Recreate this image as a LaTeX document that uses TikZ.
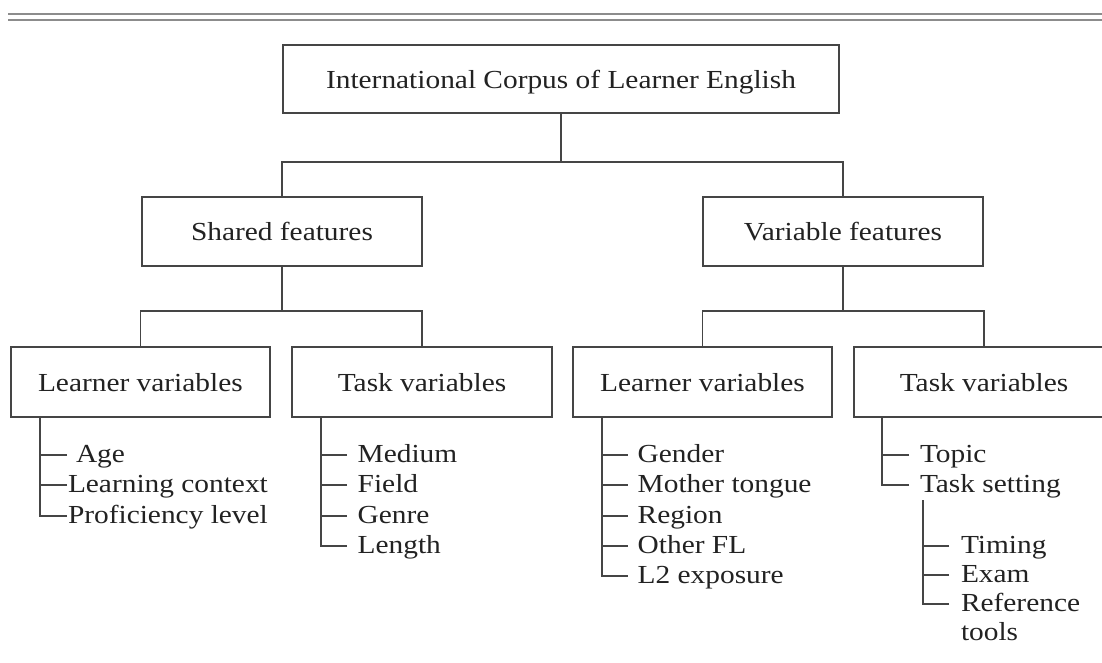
\documentclass[tikz,border=0pt]{standalone}
\usepackage{fontspec}
\setmainfont{Liberation Serif}[FakeStretch=1.13]
\definecolor{linec}{HTML}{454545}
\definecolor{textc}{HTML}{222222}
\definecolor{rulec}{HTML}{8C8C8C}
\newcommand\boxfont{\fontsize{26}{29}\selectfont}
\newcommand\tickto[3]{\draw[conn] ([xshift=-#2,yshift=7pt]#1.base west) -| (#3);}
\begin{document}
\begin{tikzpicture}[x=1pt,y=-1pt,
  box/.style={draw=linec, line width=1.7pt, rectangle, inner sep=0pt,
    minimum height=70pt, minimum width=260pt, font=\boxfont, text=textc,
    text height=24pt, text depth=6pt},
  item/.style={anchor=base west, inner sep=0pt, outer sep=0pt, font=\boxfont, text=textc},
  conn/.style={draw=linec, line width=1.7pt},
  rulel/.style={draw=rulec, line width=2.2pt}]
\useasboundingbox (0,0) rectangle (1102,662);
\fill[white] (0,0) rectangle (1102,662);
% top double rule
\coordinate (r1a) at (8,14); \coordinate (r1b) at (1102,14);
\coordinate (r2a) at (8,19.8); \coordinate (r2b) at (1102,19.8);
\draw[rulel] (r1a) -- (r1b);
\draw[rulel] (r2a) -- (r2b);
% boxes
\node[box, minimum width=556pt, minimum height=68pt] (root) at (561,79) {International Corpus of Learner English};
\node[box, minimum width=280pt, minimum height=69pt] (shared) at (282,231.5) {Shared features};
\node[box, minimum width=280pt, minimum height=69pt] (var) at (843,231.5) {Variable features};
\node[box, minimum width=259pt] (ll) at (140.4,382) {Learner variables};
\node[box] (tl) at (422,382) {Task variables};
\node[box, minimum width=259pt] (lr) at (702.5,382) {Learner variables};
\node[box] (tr) at (984,382) {Task variables};
% tree connectors
\coordinate (h1) at (0,162);
\coordinate (h2) at (0,311);
\draw[conn] (root.south) -- (root.south |- h1);
\draw[conn] (shared.north) |- (var.north |- h1) -- (var.north);
\draw[conn] (shared.south) -- (shared.south |- h2);
\draw[conn] (ll.north) |- (tl.north |- h2) -- (tl.north);
\draw[conn] (var.south) -- (var.south |- h2);
\draw[conn] (lr.north) |- (tr.north |- h2) -- (tr.north);
% spine tops
\coordinate (s1) at ([xshift=30pt]ll.south west);
\coordinate (s2) at ([xshift=30pt]tl.south west);
\coordinate (s3) at ([xshift=30pt]lr.south west);
\coordinate (s4) at ([xshift=29pt]tr.south west);
% shared learner variables
\node[item] (a1) at (76,462) {Age};
\node[item] (a2) at (68,492) {Learning context};
\node[item] (a3) at (68,523) {Proficiency level};
\tickto{a1}{9pt}{s1}
\tickto{a2}{1pt}{s1}
\tickto{a3}{1pt}{s1}
% shared task variables
\node[item] (b1) at (357.7,462) {Medium};
\node[item] (b2) at (357.7,492) {Field};
\node[item] (b3) at (357.7,523) {Genre};
\node[item] (b4) at (357.7,553) {Length};
\foreach \n in {b1,b2,b3,b4} {\tickto{\n}{10.5pt}{s2}}
% variable learner variables
\node[item] (c1) at (637.7,462) {Gender};
\node[item] (c2) at (637.7,492) {Mother tongue};
\node[item] (c3) at (637.7,523) {Region};
\node[item] (c4) at (637.7,553) {Other FL};
\node[item] (c5) at (637.7,583) {L2 exposure};
\foreach \n in {c1,c2,c3,c4,c5} {\tickto{\n}{10pt}{s3}}
% variable task variables
\node[item] (d1) at (920,462) {Topic};
\node[item] (d2) at (920,492) {Task setting};
\foreach \n in {d1,d2} {\tickto{\n}{11pt}{s4}}
% task setting sub-list
\coordinate (s5) at ([xshift=3pt,yshift=-8pt]d2.base west);
\node[item] (e1) at (961,553) {Timing};
\node[item] (e2) at (961,582) {Exam};
\node[item, text width=130pt, align=left] (e3) at (961,611) {Reference\\tools};
\foreach \n in {e1,e2,e3} {\tickto{\n}{12pt}{s5}}
\end{tikzpicture}
\end{document}
